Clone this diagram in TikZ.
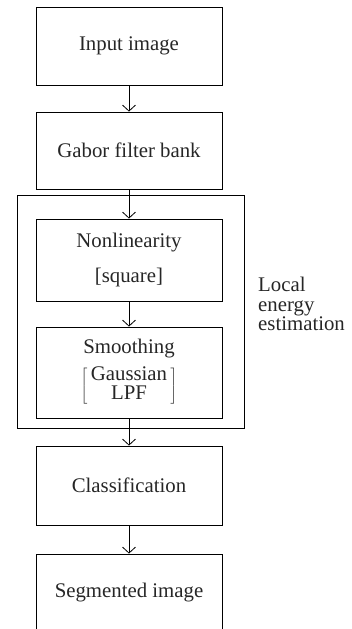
\documentclass[tikz,border=0pt]{standalone}
\usepackage{fontspec}
\setmainfont{Liberation Serif}
\usetikzlibrary{arrows.meta}
\begin{document}
\begin{tikzpicture}[x=1pt,y=-1pt,
  txt/.style={font=\fontsize{20.8}{19.5}\selectfont, text=black!85},
  box/.style={draw, line width=0.8pt, minimum width=186pt, inner sep=0pt, align=center, txt},
  arr/.style={-{Straight Barb[length=6pt,width=13pt]}, line width=0.8pt}]
\useasboundingbox (0,0) rectangle (352,629);
\clip (0,0) rectangle (352,629);
\node[box, minimum height=78pt] (in) at (129,46) {Input image};
\node[box, minimum height=77pt] (gab) at (129,150.5) {Gabor filter bank};
\node[draw, line width=0.8pt, minimum width=227pt, minimum height=233pt, inner sep=0pt] (outer) at (130.5,311.5) {};
\node[box, minimum height=82pt] (non) at (129,260) {Nonlinearity\\[15pt]{[}square{]}};
\node[box, minimum height=91pt] (sm) at (129,372.5) {};
\node[txt, inner sep=0pt] (smt) at (129,349) {Smoothing};
\node[txt, inner sep=0pt] (smb) at (129,386) {\renewcommand{\arraystretch}{0.95}$\left[\mbox{\begin{tabular}{@{\,}c@{\,}}Gaussian\\LPF\end{tabular}}\right]$};
\node[box, minimum height=79pt] (cls) at (129,485.5) {Classification};
\node[box, minimum height=78pt] (seg) at (129,593) {Segmented image};
\node[anchor=west, align=left, inner sep=0pt, txt] (loc) at (258,304) {Local\\energy\\estimation};
\draw[arr] (in) -- (gab);
\draw[arr] (gab) -- (non);
\draw[arr] (non) -- (sm);
\draw[arr] (sm) -- (cls);
\draw[arr] (cls) -- (seg);
\end{tikzpicture}
\end{document}
